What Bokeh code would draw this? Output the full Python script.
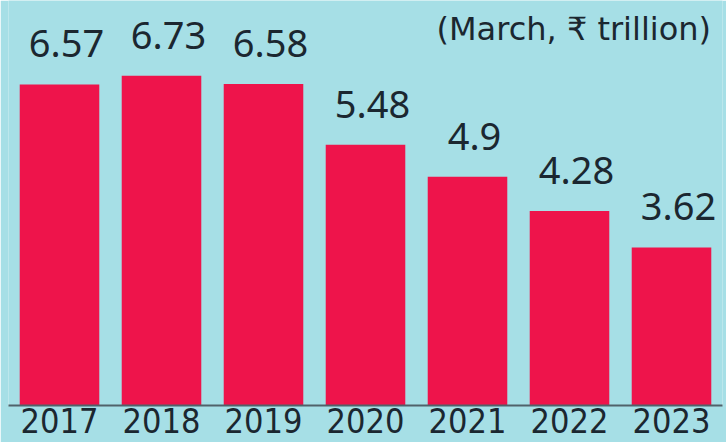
from bokeh.plotting import figure
from bokeh.models import ColumnDataSource, LabelSet, Label, Range1d
from bokeh.core.properties import value
from bokeh.embed import file_html
from bokeh.resources import INLINE

years = ["2017", "2018", "2019", "2020", "2021", "2022", "2023"]
values = [6.57, 6.73, 6.58, 5.48, 4.9, 4.28, 3.62]
value_labels = ["6.57", "6.73", "6.58", "5.48", "4.9", "4.28", "3.62"]
subtitle = "(March, \u20b9 trillion)"

BG = "#a6dfe6"
BAR = "#ee144b"
TXT = "#1b2730"

y0 = 0.76
source = ColumnDataSource(dict(x=years, top=values, bottom=[y0] * len(values), lab=value_labels))

p = figure(width=726, height=442, x_range=years, y_range=Range1d(y0, 8.09),
           output_backend="svg", toolbar_location=None,
           min_border_left=8, min_border_right=4, min_border_top=0, min_border_bottom=37)
p.x_range.range_padding = 0

p.vbar(x="x", top="top", bottom="bottom", width=0.78, source=source, fill_color=BAR, line_color=None)

labels = LabelSet(x="x", y="top", text="lab", source=source, text_align="center",
                  text_baseline="alphabetic", y_offset=27, x_offset=7,
                  text_font=value("Noto Sans"), text_font_style="normal",
                  text_font_size="38px", text_color=TXT)
p.add_layout(labels)

sub = Label(x=428, y=377, x_units="screen", y_units="screen", text=subtitle,
            text_font="DejaVu Sans", text_font_size="32px", text_color=TXT,
            text_baseline="alphabetic", text_align="left")
p.add_layout(sub)

p.background_fill_color = BG
p.border_fill_color = BG
p.outline_line_color = None
p.grid.visible = False
p.yaxis.visible = False
p.xaxis.axis_line_color = "#50626a"
p.xaxis.axis_line_width = 2
p.xaxis.major_tick_line_color = None
p.xaxis.minor_tick_line_color = None
p.xaxis.major_label_standoff = -4
p.xaxis.major_label_text_font = "DejaVu Sans Condensed"
p.xaxis.major_label_text_font_size = "34px"
p.xaxis.major_label_text_color = TXT

open("out.html", "w").write(file_html(p, INLINE))
